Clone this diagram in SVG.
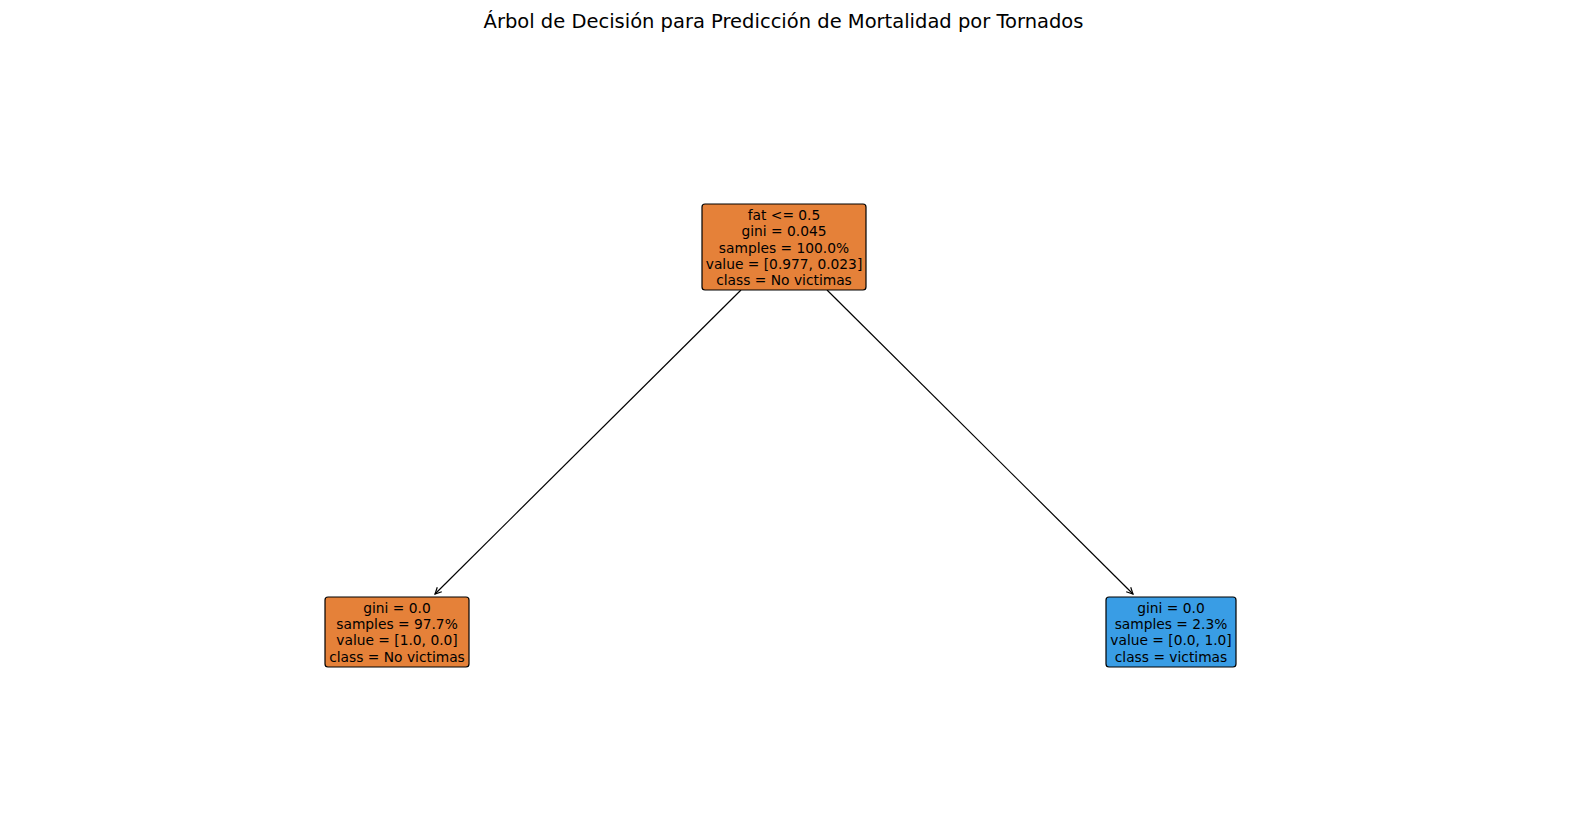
<svg xmlns="http://www.w3.org/2000/svg" width="1570" height="835" viewBox="0 0 1570 835">
<style>
.t{font-family:"DejaVu Sans",sans-serif;font-size:13.8px;fill:#000;text-anchor:middle;dominant-baseline:central}
.title{font-family:"DejaVu Sans",sans-serif;font-size:19.5px;fill:#000;text-anchor:middle}
.box{stroke:#000;stroke-width:1.2}
.edge{stroke:#000;stroke-width:1.2;fill:none;marker-end:url(#ah)}
</style>
<defs>
<marker id="ah" viewBox="0 0 10 10" refX="9" refY="5" markerWidth="8" markerHeight="8" markerUnits="userSpaceOnUse" orient="auto">
<path d="M1,1 L9,5 L1,9" fill="none" stroke="#000" stroke-width="1.5"/>
</marker>
</defs>
<rect width="1570" height="835" fill="#fff"/>
<text class="title" x="783.5" y="28">Árbol de Decisión para Predicción de Mortalidad por Tornados</text>
<g id="connectors">
<line class="edge" x1="741" y1="290" x2="435" y2="594"/>
<line class="edge" x1="827" y1="290" x2="1133" y2="594"/>
</g>
<g id="root">
<rect class="box" x="702" y="204" width="164" height="86" rx="3" fill="#e58139"/>
<text class="t" x="784" y="215">fat &lt;= 0.5</text>
<text class="t" x="784" y="231">gini = 0.045</text>
<text class="t" x="784" y="247.5">samples = 100.0%</text>
<text class="t" x="784" y="264">value = [0.977, 0.023]</text>
<text class="t" x="784" y="280">class = No victimas</text>
</g>
<g id="left">
<rect class="box" x="325" y="597" width="144" height="70" rx="3" fill="#e58139"/>
<text class="t" x="397" y="607.5">gini = 0.0</text>
<text class="t" x="397" y="623.5">samples = 97.7%</text>
<text class="t" x="397" y="640">value = [1.0, 0.0]</text>
<text class="t" x="397" y="656.5">class = No victimas</text>
</g>
<g id="right">
<rect class="box" x="1106" y="597" width="130" height="70" rx="3" fill="#399de5"/>
<text class="t" x="1171" y="607.5">gini = 0.0</text>
<text class="t" x="1171" y="623.5">samples = 2.3%</text>
<text class="t" x="1171" y="640">value = [0.0, 1.0]</text>
<text class="t" x="1171" y="656.5">class = victimas</text>
</g>
</svg>
